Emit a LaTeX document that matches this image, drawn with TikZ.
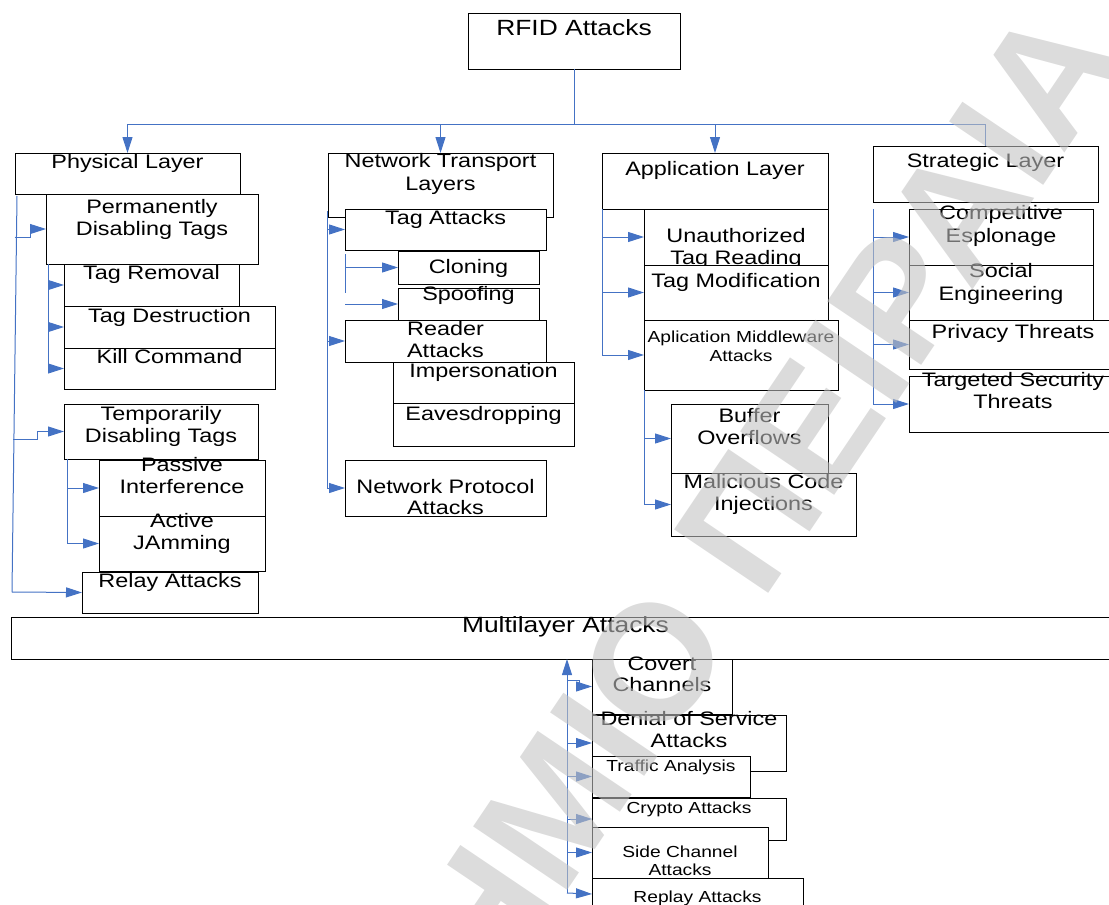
\documentclass[tikz,border=0pt]{standalone}
\usepackage{fontspec}
\setmainfont{Liberation Sans}[FakeStretch=1.2]
\newfontfamily\wmfont{Liberation Sans}
\usetikzlibrary{arrows.meta}
\definecolor{lnblue}{HTML}{4472C4}

\tikzset{
  box/.style={draw=black, line width=1pt, fill=white, inner sep=0pt, outer sep=0pt},
  lbl/.style={anchor=base, inner sep=0pt, font=\fontsize{19.5}{22}\selectfont},
  small/.style={font=\fontsize{16}{19}\selectfont},
  large/.style={font=\fontsize{22}{26}\selectfont},
  conn/.style={draw=lnblue, line width=1pt},
  arr/.style={conn, -{Triangle[length=16pt,width=10pt]}},
  wm/.style={inner sep=0pt, text=black!24, text opacity=0.58,
    font=\wmfont\bfseries\fontsize{165}{165}\selectfont, rotate=56},
}

\newcommand\lsp{22}
% one-line box: [text style]{name}{x1}{y1}{x2}{y2}{baseline}{text}
\newcommand\bxone[8][]{%
  \node[box, minimum width={#5-#3}, minimum height={#6-#4}] (#2) at ({(#3+#5)/2},{(#4+#6)/2}) {};
  \node[lbl,#1] (#2-t) at ({(#3+#5)/2},#7) {#8};}
% two-line box: [text style]{name}{x1}{y1}{x2}{y2}{baseline}{line 1}{line 2}
\newcommand\bxtwo[9][]{%
  \node[box, minimum width={#5-#3}, minimum height={#6-#4}] (#2) at ({(#3+#5)/2},{(#4+#6)/2}) {};
  \node[lbl,#1] (#2-t) at ({(#3+#5)/2},#7) {#8};
  \node[lbl,#1] (#2-u) at ({(#3+#5)/2},{#7+\lsp}) {#9};}

\begin{document}
\begin{tikzpicture}[x=1pt,y=-1pt]
\useasboundingbox (0,0) rectangle (1109,905);
\clip (0,0) rectangle (1109,905);

% ---------- boxes ----------
\bxone[large]{rfid}{468}{13}{680}{69}{35}{RFID Attacks}

% physical layer column
\bxone{pl}{15}{153}{240}{194}{168}{Physical Layer}
\bxtwo{pdt}{46}{194}{258}{264}{213}{Permanently}{Disabling Tags}
\bxone{trm}{64}{264}{239}{306}{279}{Tag Removal}
\bxone{tds}{64}{306}{275}{348}{322}{Tag Destruction}
\bxone{kil}{64}{348}{275}{389}{363}{Kill Command}
\bxtwo{tdt}{64}{404}{258}{459}{420}{Temporarily}{Disabling Tags}
\bxtwo{pif}{99}{460}{265}{516}{471}{Passive}{Interference}
\bxtwo{ajm}{99}{516}{265}{571}{527}{Active}{JAmming}
\bxone{rly}{82}{572}{258}{613}{587}{Relay Attacks}

% network transport column
\renewcommand\lsp{23}
\bxtwo{nt}{328}{153}{553}{217}{167}{Network Transport}{Layers}
\renewcommand\lsp{22}
\bxone{ta}{345}{209}{546}{250}{224}{Tag Attacks}
\bxone{cln}{398}{251}{539}{284}{273}{Cloning}
\bxone{spf}{398}{288}{539}{320}{300}{Spoofing}
\bxtwo{rda}{345}{320}{546}{362}{335}{Reader}{Attacks}
\bxone{imp}{393}{362}{574}{403}{377}{Impersonation}
\bxone{eav}{393}{403}{574}{446}{420}{Eavesdropping}
\renewcommand\lsp{21}
\bxtwo{npa}{345}{460}{546}{516}{493}{Network Protocol}{Attacks}
\renewcommand\lsp{22}

% application column
\bxone{al}{602}{153}{828}{209}{175}{Application Layer}
\bxtwo{utr}{644}{209}{828}{265}{242}{Unauthorized}{Tag Reading}
\bxone{tmo}{644}{265}{828}{320}{287}{Tag Modification}
\renewcommand\lsp{19}
\bxtwo[small]{amw}{644}{320}{838}{390}{342}{Aplication Middleware}{Attacks}
\renewcommand\lsp{22}
\bxtwo{bof}{671}{404}{828}{473}{422}{Buffer}{Overflows}
\bxtwo{mci}{671}{473}{856}{536}{488}{Malicious Code}{Injections}

% strategic column
\bxone{sl}{873}{146}{1098}{202}{167}{Strategic Layer}
\renewcommand\lsp{23}
\bxtwo{cep}{909}{209}{1093}{265}{219}{Competitive}{Esplonage}
\bxtwo{soc}{909}{265}{1093}{320}{277}{Social}{Engineering}
\renewcommand\lsp{22}
\bxone{prv}{909}{320}{1117}{369}{338}{Privacy Threats}
\bxtwo{tgs}{909}{376}{1117}{432}{386}{Targeted Security}{Threats}

% multilayer row
\bxone[large]{ml}{11}{617}{1120}{659}{632}{Multilayer Attacks}
\renewcommand\lsp{21}
\bxtwo{cvc}{592}{659}{732}{714}{670}{Covert}{Channels}
\renewcommand\lsp{22}
\bxtwo{dos}{592}{715}{786}{771}{725}{Denial of Service}{Attacks}
\bxone[small]{tra}{592}{756}{750}{797}{771}{Traffic Analysis}
\bxone[small]{cry}{592}{798}{786}{840}{813}{Crypto Attacks}
\renewcommand\lsp{18}
\bxtwo[small]{sca}{592}{827}{768}{878}{857}{Side Channel}{Attacks}
\renewcommand\lsp{22}
\bxone[small]{rpa}{592}{878}{803}{910}{902}{Replay Attacks}

% ---------- connectors ----------
\coordinate (j0) at (574,124);
\draw[conn] (rfid.south) -- (j0);
\draw[arr] (j0) -| (pl.north);
\draw[arr] (j0) -| (nt.north);
\draw[arr] (j0) -| (al.north);
\draw[conn] (j0) -| (sl.north);

% physical layer
\coordinate (p0) at (17,196);
\coordinate (p1) at (12,592);
\draw[conn] (p0) -- (p1);
\draw[arr] (p1) -- (rly.west);
\coordinate (pa) at (14.5,237);
\coordinate (pb) at (30,237);
\draw[arr] (pa) -- (pb) |- (pdt.west);
\coordinate (pc) at (13,439);
\coordinate (pd) at (37,439);
\draw[arr] (pc) -- (pd) |- (tdt.west);
\coordinate (q0) at (48,264);
\draw[arr] (q0) |- (trm.west);
\draw[arr] (q0) |- (tds.west);
\draw[arr] (q0) |- (kil.west);
\coordinate (r0) at (67,459);
\draw[arr] (r0) |- (pif.west);
\draw[arr] (r0) |- (ajm.west);

% network transport
\coordinate (n0) at (327,211);
\draw[arr] (n0) |- (ta.west);
\draw[arr] (n0) |- (rda.west);
\draw[arr] (n0) |- (npa.west);
\coordinate (t0) at (345,254);
\coordinate (t1) at (345,293);
\coordinate (t2) at (345,304);
\draw[conn] (t0) -- (t1);
\draw[arr] (t0 |- cln.west) -- (cln.west);
\draw[arr] (t2) -- (spf.west);

% application
\draw[arr] (al.south west) |- (utr.west);
\draw[arr] (al.south west) |- (tmo.west);
\draw[arr] (al.south west) |- (amw.west);
\draw[arr] (amw.south west) |- (bof.west);
\draw[arr] (amw.south west) |- (mci.west);

% strategic
\coordinate (s0) at (873,209);
\draw[arr] (s0) |- (cep.west);
\draw[arr] (s0) |- (soc.west);
\draw[arr] (s0) |- (prv.west);
\draw[arr] (s0) |- (tgs.west);

% multilayer
\coordinate (m0) at (567,893);
\draw[arr] (m0) -- (m0 |- ml.south);
\draw[arr] (m0) -- (rpa.west);
\coordinate (m1) at (567,680);
\coordinate (m2) at (579,680);
\draw[arr] (m1) -- (m2) |- (cvc.west);
\draw[arr] (m0 |- dos.west) -- (dos.west);
\draw[arr] (m0 |- tra.west) -- (tra.west);
\draw[arr] (m0 |- cry.west) -- (cry.west);
\draw[arr] (m0 |- sca.west) -- (sca.west);

% ---------- watermark ----------
\node[wm, anchor=base east] (wm1) at (736,641) {ΠΑΝΕΠΙΣΤΗΜΙΟ};
\node[wm, anchor=base west] (wm2) at (762,603) {ΠΕΙΡΑΙΑ};
\end{tikzpicture}
\end{document}
